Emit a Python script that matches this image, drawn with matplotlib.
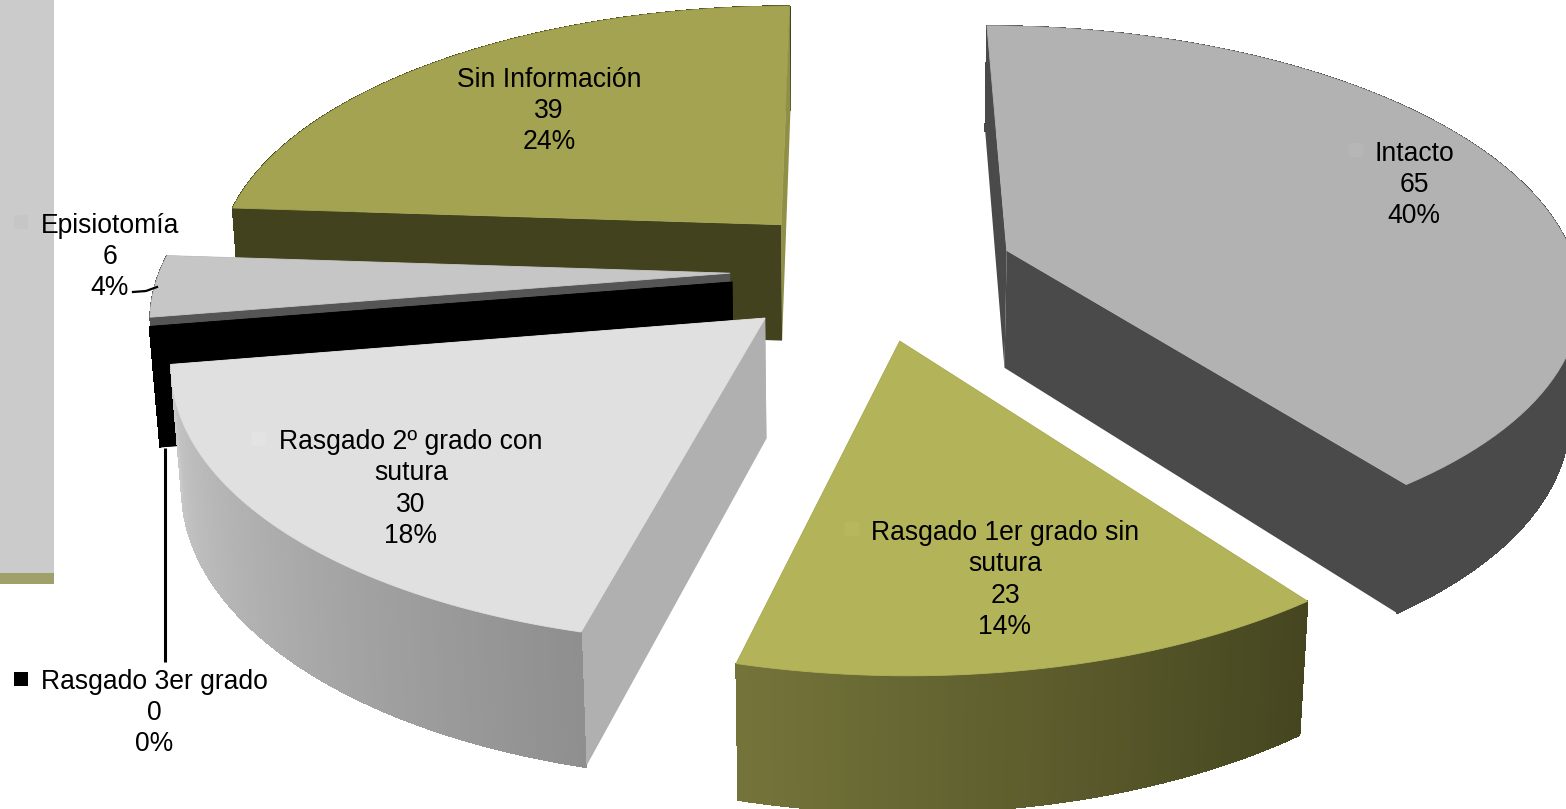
import numpy as np
import matplotlib
matplotlib.use("Agg")
import matplotlib.pyplot as plt
from matplotlib.colors import to_rgb

plt.rcParams["font.family"] = ["Liberation Sans", "DejaVu Sans"]

# Datos del grafico
categorias = ["Intacto", "Rasgado 1er grado sin\nsutura", "Rasgado 2º grado con\nsutura",
              "Rasgado 3er grado", "Episiotomía", "Sin Información"]
valores = [65, 23, 30, 0, 6, 39]

# Estilo de cada porcion (desplazamiento en unidades del radio)
despl_x = [0.278, 0.084, -0.145, -0.205, -0.210, -0.124]
despl_y = [0.075, -0.260, -0.178, -0.045, -0.012, 0.177]
color_sup = ["#B2B2B2", "#B3B35A", "#E0E0E0", "#000000", "#C6C6C6", "#A3A352"]
color_arco = [("#4A4A4A", "#4A4A4A"), ("#74743A", "#454520"), ("#C9C9C9", "#8F8F8F"),
              ("#000000", "#000000"), ("#555555", "#555555"), ("#42421E", "#42421E")]
color_corte_ini = ["#4A4A4A", "#45451F", "#B0B0B0", "#000000", "#555555", "#42421E"]
color_corte_fin = ["#4A4A4A", "#45451F", "#B0B0B0", "#000000", "#555555", "#8F8F45"]
orden = [5, 0, 4, 3, 2, 1]

# Posicion de los textos y de la marca de leyenda
pos_texto = [(1414, 185), (1005, 580), (411, 489), (154, 713), (110, 257), (549, 111)]
pos_marca = [(1356, 150), (852, 529), (259, 439), (21, 679), (21, 222), (435, 76)]
color_marca = ["#B6B6B6", "#B7B75F", "#E3E3E3", "#000000", "#C6C6C6", "#A3A352"]

# Proyeccion en perspectiva del disco al plano de la imagen
cx, cy = 850, 270
a, b, k = 570, 262.8, 0.146
alto, enc = 120, 0.015


def proyectar(x, y, z=0.0):
    w = 1 + k * y + enc * z
    return cx + a * x / w, cy + (alto * z - b * y) / w


def mezcla(c1, c2, t):
    c1, c2 = np.array(to_rgb(c1)), np.array(to_rgb(c2))
    return tuple(c1 + (c2 - c1) * t)


def dibujar_arco(i, xs, ys):
    # Lateral curvo, con degradado
    for j in range(len(xs) - 1):
        p = [proyectar(xs[j], ys[j]), proyectar(xs[j + 1], ys[j + 1]),
             proyectar(xs[j + 1], ys[j + 1], 1), proyectar(xs[j], ys[j], 1)]
        col = mezcla(color_arco[i][1], color_arco[i][0], j / (len(xs) - 2))
        ax.fill(*zip(*p), color=col, lw=0.5, antialiased=False)


def dibujar_cortes(i, ox, oy, ini, fin):
    for ang, col in ((fin, color_corte_fin[i]), (ini, color_corte_ini[i])):
        ex, ey = ox + np.sin(ang), oy + np.cos(ang)
        p = [proyectar(ox, oy), proyectar(ex, ey), proyectar(ex, ey, 1), proyectar(ox, oy, 1)]
        ax.fill(*zip(*p), color=col, lw=0)


fig = plt.figure(figsize=(15.66, 8.09), dpi=100)
ax = fig.add_axes([0, 0, 1, 1])
ax.set_xlim(0, 1566)
ax.set_ylim(809, 0)
ax.axis("off")

# Restos de la leyenda a la izquierda
ax.fill([0, 54, 54, 0], [0, 0, 573, 573], color="#CBCBCB", lw=0)
ax.fill([0, 54, 54, 0], [573, 573, 584, 584], color="#A0A06A", lw=0)

total = sum(valores)
limites = np.cumsum([0] + valores) / total * 2 * np.pi

for i in orden:
    ini, fin = limites[i], limites[i + 1]
    ox, oy = despl_x[i], despl_y[i]
    th = np.linspace(ini, fin, 90)
    xs = ox + np.sin(th)
    ys = oy + np.cos(th)

    # Las porciones del fondo llevan el arco detras de los cortes
    if np.cos((ini + fin) / 2) > 0:
        dibujar_arco(i, xs, ys)
        dibujar_cortes(i, ox, oy, ini, fin)
    else:
        dibujar_cortes(i, ox, oy, ini, fin)
        dibujar_arco(i, xs, ys)

    # Cara superior
    px, py = proyectar(np.r_[ox, xs], np.r_[oy, ys])
    ax.fill(px, py, color=color_sup[i], lw=0.6)

# Lineas guia
ax.plot([165, 165], [448, 662], color="black", lw=2.2, solid_capstyle="butt")
ax.plot([133, 146, 157], [292, 291, 287], color="black", lw=1.6)

# Etiquetas
for i, nombre in enumerate(categorias):
    pct = round(valores[i] / total * 100)
    ax.text(pos_texto[i][0], pos_texto[i][1], f"{nombre}\n{valores[i]}\n{pct}%",
            ha="center", va="center", fontsize=19.1, color="black", linespacing=1.27)
    mx, my = pos_marca[i]
    ax.fill([mx - 7, mx + 7, mx + 7, mx - 7], [my - 7, my - 7, my + 7, my + 7],
            color=color_marca[i], lw=0)

fig.savefig("out.png", dpi=100)
